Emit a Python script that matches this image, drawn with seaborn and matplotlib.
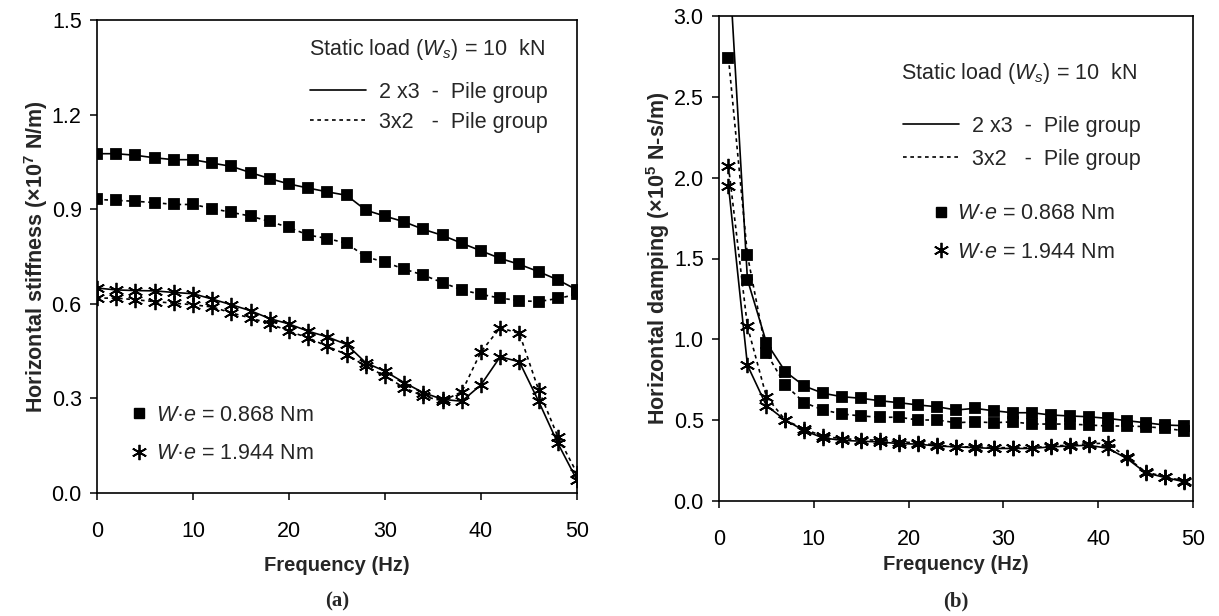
import matplotlib
matplotlib.use('Agg')
import matplotlib.pyplot as plt
from matplotlib.lines import Line2D
import seaborn as sns

sns.set_style('ticks')
plt.rcParams['font.family'] = ['Liberation Sans', 'DejaVu Sans']
plt.rcParams['mathtext.fontset'] = 'custom'
plt.rcParams['mathtext.rm'] = 'Liberation Sans'
plt.rcParams['mathtext.it'] = 'Liberation Sans:italic'
plt.rcParams['mathtext.bf'] = 'Liberation Sans:bold'

# ---------------------------------------------------------------------------------------
# Data

# (a) stiffness, x10^7 N/m
freq_a = [0, 2, 4, 6, 8, 10, 12, 14, 16, 18, 20, 22, 24, 26, 28, 30, 32, 34, 36, 38, 40, 42, 44, 46, 48, 50]
stiff_23_low = [1.076, 1.076, 1.071, 1.063, 1.057, 1.057, 1.046, 1.036, 1.016, 0.997, 0.980, 0.967, 0.955,
                0.944, 0.897, 0.878, 0.860, 0.836, 0.817, 0.792, 0.768, 0.744, 0.725, 0.702, 0.676, 0.644]
stiff_32_low = [0.931, 0.928, 0.925, 0.921, 0.915, 0.915, 0.902, 0.890, 0.878, 0.861, 0.842, 0.818, 0.807,
                0.792, 0.749, 0.732, 0.710, 0.691, 0.667, 0.644, 0.630, 0.618, 0.610, 0.607, 0.617, 0.630]
stiff_23_high = [0.650, 0.644, 0.642, 0.641, 0.636, 0.632, 0.615, 0.597, 0.578, 0.553, 0.536, 0.513, 0.495,
                 0.471, 0.413, 0.386, 0.350, 0.318, 0.297, 0.291, 0.343, 0.432, 0.416, 0.291, 0.158, 0.041]
stiff_32_high = [0.618, 0.618, 0.613, 0.607, 0.602, 0.597, 0.590, 0.571, 0.555, 0.537, 0.513, 0.492, 0.465,
                 0.439, 0.402, 0.371, 0.334, 0.307, 0.292, 0.321, 0.448, 0.524, 0.506, 0.327, 0.179, 0.063]

# (b) damping, x10^5 N-s/m
freq_b = [1, 3, 5, 7, 9, 11, 13, 15, 17, 19, 21, 23, 25, 27, 29, 31, 33, 35, 37, 39, 41, 43, 45, 47, 49]
damp_23_low = [3.40, 1.37, 0.98, 0.800, 0.711, 0.666, 0.645, 0.635, 0.620, 0.608, 0.594, 0.583, 0.563,
               0.573, 0.558, 0.546, 0.546, 0.532, 0.526, 0.521, 0.511, 0.497, 0.484, 0.470, 0.466]
damp_32_low = [2.74, 1.52, 0.915, 0.717, 0.608, 0.563, 0.538, 0.526, 0.518, 0.518, 0.501, 0.501, 0.484,
               0.490, 0.484, 0.490, 0.476, 0.476, 0.476, 0.470, 0.464, 0.464, 0.460, 0.450, 0.435]
damp_23_high = [1.95, 0.84, 0.59, 0.500, 0.435, 0.390, 0.375, 0.370, 0.365, 0.355, 0.352, 0.340, 0.335,
                0.330, 0.325, 0.325, 0.325, 0.335, 0.340, 0.345, 0.326, 0.264, 0.175, 0.146, 0.120]
damp_32_high = [2.07, 1.08, 0.645, 0.500, 0.445, 0.400, 0.385, 0.380, 0.375, 0.365, 0.360, 0.345, 0.335,
                0.335, 0.330, 0.330, 0.330, 0.340, 0.345, 0.355, 0.357, 0.270, 0.180, 0.150, 0.125]

load_text = 'Static load ($W_s$) = 10  kN'
group_labels = ['2 x3  -  Pile group', '3x2   -  Pile group']
ecc_labels = ['$W$·$e$ = 0.868 Nm', '$W$·$e$ = 1.944 Nm']

# ---------------------------------------------------------------------------------------
# Plot

ast = (6, 2, 0)
solid = '-'
dotted = (0, (2.2, 2.2))
fs = 15.5

fig = plt.figure(figsize=(12.19, 6.16), dpi=100)
ax1 = fig.add_axes([97 / 1219, 123 / 616, 480 / 1219, 473 / 616])
ax2 = fig.add_axes([719 / 1219, 115 / 616, 474 / 1219, 485 / 616])


def draw(ax, x, y, ls, mk, ms):
    sns.lineplot(x=x, y=y, ax=ax, color='black', linestyle=ls, lw=1.2, marker=mk,
                 markersize=ms, markeredgewidth=1.3, markeredgecolor='black',
                 markerfacecolor='black', sort=False, estimator=None)


draw(ax1, freq_a, stiff_23_low, solid, 's', 7)
draw(ax1, freq_a, stiff_32_low, dotted, 's', 7)
draw(ax1, freq_a, stiff_23_high, solid, ast, 11)
draw(ax1, freq_a, stiff_32_high, dotted, ast, 11)

draw(ax2, freq_b, damp_23_low, solid, 's', 7)
draw(ax2, freq_b, damp_32_low, dotted, 's', 7)
draw(ax2, freq_b, damp_23_high, solid, ast, 11)
draw(ax2, freq_b, damp_32_high, dotted, ast, 11)

ax1.set_xlim(0, 50)
ax1.set_ylim(0, 1.5)
ax1.set_yticks([0.0, 0.3, 0.6, 0.9, 1.2, 1.5])
ax1.set_yticklabels(['0.0', '0.3', '0.6', '0.9', '1.2', '1.5'])
ax1.set_ylabel('Horizontal stiffness (×10$^\\mathbf{7}$ N/m)', fontsize=15.5, fontweight='bold', labelpad=1)

ax2.set_xlim(0, 50)
ax2.set_ylim(0, 3.0)
ax2.set_yticks([0.0, 0.5, 1.0, 1.5, 2.0, 2.5, 3.0])
ax2.set_yticklabels(['0.0', '0.5', '1.0', '1.5', '2.0', '2.5', '3.0'])
ax2.set_ylabel('Horizontal damping (×10$^\\mathbf{5}$ N-s/m)', fontsize=15.5, fontweight='bold', labelpad=1)

for ax in (ax1, ax2):
    ax.set_xticks([0, 10, 20, 30, 40, 50])
    ax.tick_params(direction='out', length=5, width=1.1, labelsize=fs, colors='black', pad=6)
    ax.tick_params(axis='x', pad=15)
    for s in ax.spines.values():
        s.set_visible(True)
        s.set_linewidth(1.2)
        s.set_color('black')

ax1.set_xlabel('Frequency (Hz)', fontsize=14.5, fontweight='bold', labelpad=10)
ax2.set_xlabel('Frequency (Hz)', fontsize=14.5, fontweight='bold', labelpad=4)

line_handles = [Line2D([], [], color='black', lw=1.2, linestyle=solid),
                Line2D([], [], color='black', lw=1.2, linestyle=dotted)]
mark_handles = [Line2D([], [], color='black', linestyle='none', marker='s', markersize=7),
                Line2D([], [], color='black', linestyle='none', marker=ast, markersize=11, markeredgewidth=1.3)]

# (a) annotations
ax1.text(0.442, 0.937, load_text, transform=ax1.transAxes, fontsize=fs, va='center', ha='left')
leg = ax1.legend(line_handles, group_labels, loc='upper left', bbox_to_anchor=(0.444, 0.869),
                 frameon=False, fontsize=fs, handlelength=2.6, handletextpad=0.6,
                 labelspacing=0.42, borderaxespad=0, borderpad=0)
ax1.add_artist(leg)
ax1.legend(mark_handles, ecc_labels, loc='upper left', bbox_to_anchor=(0.07, 0.186),
           frameon=False, fontsize=fs, handlelength=0.8, handletextpad=0.37,
           labelspacing=0.8, borderaxespad=0, borderpad=0)

# (b) annotations
ax2.text(0.384, 0.882, load_text, transform=ax2.transAxes, fontsize=fs, va='center', ha='left')
leg = ax2.legend(line_handles, group_labels, loc='upper left', bbox_to_anchor=(0.388, 0.794),
                 frameon=False, fontsize=fs, handlelength=2.6, handletextpad=0.6,
                 labelspacing=0.56, borderaxespad=0, borderpad=0)
ax2.add_artist(leg)
ax2.legend(mark_handles, ecc_labels, loc='upper left', bbox_to_anchor=(0.45, 0.614),
           frameon=False, fontsize=fs, handlelength=0.8, handletextpad=0.37,
           labelspacing=0.82, borderaxespad=0, borderpad=0)

fig.text(337 / 1219, 1 - 601 / 616, '(a)', fontsize=15, fontweight='bold', ha='center', va='center',
         family=['Liberation Serif', 'DejaVu Serif'])
fig.text(956 / 1219, 1 - 601 / 616, '(b)', fontsize=15, fontweight='bold', ha='center', va='center',
         family=['Liberation Serif', 'DejaVu Serif'])

fig.savefig('out.png', dpi=100, facecolor='white')
